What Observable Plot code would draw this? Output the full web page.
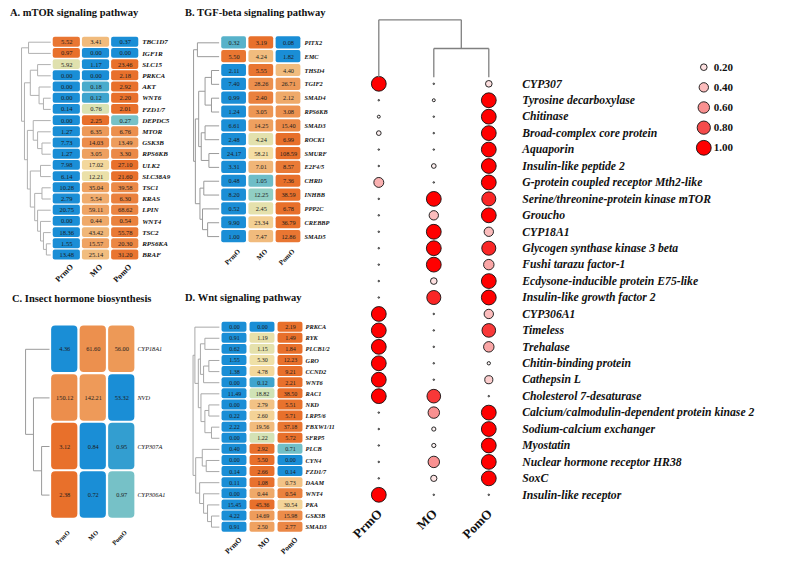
<!DOCTYPE html>
<html><head><meta charset="utf-8">
<script src="https://cdn.jsdelivr.net/npm/d3@7"></script>
<script src="https://cdn.jsdelivr.net/npm/@observablehq/plot@0.6"></script>
<style>
body{margin:0;background:#fff;}
#fig{position:relative;width:797px;height:562px;overflow:hidden;background:#fff;font-family:"Liberation Serif","Times New Roman",serif;}
.panel{position:absolute;}
.panel svg{max-width:none;display:block;}
.title{position:absolute;font-weight:bold;font-size:10.5px;line-height:12px;white-space:nowrap;color:#111;}
</style></head><body><div id="fig"></div>
<script>
const conditions = ["PrmO","MO","PomO"];

// A. mTOR signaling pathway
const mtorGenes = ["TBC1D7","IGF1R","SLC15","PRKCA","AKT","WNT6","FZD1/7","DEPDC5","MTOR","GSK3B","RPS6KB","ULK2","SLC38A9","TSC1","KRAS","LPIN","WNT4","TSC2","RPS6KA","BRAF"];
const mtorPrmO = [5.52,0.97,5.92,0.00,0.00,0.00,0.14,0.00,1.27,7.73,1.27,7.98,6.14,10.28,2.79,20.75,0.00,18.36,1.55,13.48];
const mtorMO   = [3.41,0.00,1.17,0.00,0.18,0.12,0.76,2.25,6.35,14.03,3.05,17.02,12.21,35.04,5.54,59.11,0.44,43.42,15.57,25.14];
const mtorPomO = [0.37,0.00,23.46,2.18,2.92,2.20,2.01,0.27,6.76,13.49,3.30,27.10,21.60,39.58,6.30,68.62,0.54,55.78,20.30,31.20];
const mtorTree = [1.0,[0.76,0,1],[0.9,[0.7,[0.45,2,3],[0.4,4,[0.25,5,6]]],[0.8,[0.6,7,[0.45,8,[0.3,9,10]]],[0.7,[0.35,11,12],[0.55,[0.3,13,14],[0.45,15,[0.35,16,[0.25,17,[0.15,18,19]]]]]]]]];

// B. TGF-beta signaling pathway
const tgfGenes = ["PITX2","EMC","THSD4","TGIF2","SMAD4","RPS6KB","SMAD3","ROCK1","SMURF","E2F4/5","CHRD","INHBB","PPP2C","CREBBP","SMAD5"];
const tgfPrmO = [0.32,5.50,2.11,7.40,0.99,1.24,6.61,2.48,24.17,3.31,0.48,8.20,0.52,9.90,1.00];
const tgfMO   = [3.19,4.24,5.55,28.26,2.40,3.05,14.25,4.24,58.21,7.01,1.05,12.25,2.45,23.34,7.47];
const tgfPomO = [0.08,1.82,4.40,26.71,2.12,3.08,15.40,6.99,108.59,8.57,7.36,38.59,6.78,36.79,12.86];
const tgfTree = [1.0,[0.85,0,1],[0.93,[0.8,[0.55,[0.3,2,3],[0.3,4,5]],[0.7,[0.55,6,7],[0.4,8,9]]],[0.75,[0.6,10,11],[0.65,12,[0.45,13,14]]]]];

// C. Insect hormone biosynthesis
const hormGenes = ["CYP18A1","NVD","CYP307A","CYP306A1"];
const hormPrmO = [4.36,150.12,3.12,2.38];
const hormMO   = [61.60,142.21,0.84,0.72];
const hormPomO = [56.00,53.32,0.95,0.97];
const hormTree = [1.0,0,[0.67,1,[0.33,2,3]]];

// D. Wnt signaling pathway
const wntGenes = ["PRKCA","RYK","PLCB1/2","GRO","CCND2","WNT6","RAC1","NKD","LRP5/6","FBXW1/11","SFRP5","PLCB","CYN4","FZD1/7","DAAM","WNT4","PKA","GSK3B","SMAD3"];
const wntPrmO = [0.00,0.91,0.62,1.55,1.38,0.00,11.49,0.00,0.22,2.22,0.00,0.40,0.00,0.14,0.11,0.00,15.45,4.22,0.91];
const wntMO   = [0.00,1.19,1.15,5.30,4.78,0.12,18.82,2.79,2.60,19.56,1.22,2.92,5.50,2.66,1.08,0.44,45.36,14.69,2.50];
const wntPomO = [2.19,1.49,1.84,12.23,9.21,2.21,38.50,5.51,5.71,37.18,5.72,0.71,0.00,0.14,0.73,0.54,30.54,15.98,2.77];
const wntTree = [1.0,[0.93,0,[0.8,[0.72,[0.55,1,2],[0.6,[0.4,3,4],5]],[0.7,6,[0.55,[0.4,7,8],[0.3,9,10]]]]],[0.9,[0.65,11,[0.5,12,13]],[0.75,14,[0.6,15,[0.45,16,[0.3,17,18]]]]]];

// Bubble chart
const bubbleGenes = ["CYP307","Tyrosine decarboxylase","Chitinase","Broad-complex core protein","Aquaporin","Insulin-like peptide 2","G-protein coupled receptor Mth2-like","Serine/threonine-protein kinase mTOR","Groucho","CYP18A1","Glycogen synthase kinase 3 beta","Fushi tarazu factor-1","Ecdysone-inducible protein E75-like","Insulin-like growth factor 2","CYP306A1","Timeless","Trehalase","Chitin-binding protein","Cathepsin L","Cholesterol 7-desaturase","Calcium/calmodulin-dependent protein kinase 2","Sodium-calcium exchanger","Myostatin","Nuclear hormone receptor HR38","SoxC","Insulin-like receptor"];
const bubblePrmO = [1.00,0.01,0.04,0.10,0.01,0.01,0.45,0.01,0.01,0.01,0.01,0.01,0.01,0.01,1.00,1.00,1.00,1.00,1.00,1.00,0.01,0.01,0.01,0.01,0.01,1.00];
const bubbleMO   = [0.01,0.04,0.01,0.01,0.01,0.10,0.01,1.00,0.40,1.00,1.00,1.00,0.20,0.90,0.01,0.01,0.01,0.01,0.01,0.85,0.60,0.08,0.08,0.60,0.18,0.01];
const bubblePomO = [0.20,1.00,1.00,1.00,1.00,1.00,1.00,0.90,1.00,0.40,0.90,0.50,1.00,1.00,0.40,0.85,0.50,0.05,0.30,0.01,1.00,1.00,1.00,1.00,1.00,0.01];
const bubbleTree = [1.0,0,[0.5,1,2]];
const legendValues = [0.20,0.40,0.60,0.80,1.00];

const serif = "'Liberation Serif','Times New Roman',serif";
const fmt = d3.format(".2f");
const heatColor = {type:"linear", domain:[-0.57,-0.47,-0.33,-0.15,0.1,0.45,0.85],
  range:["#1a8ed6","#45a9cc","#8ecdc4","#cde3b8","#f4dfa4","#efa565","#e8702b"], clamp:true};
const bubbleColor = {type:"linear", domain:[0,0.2,0.4,0.6,0.8,1], range:["#ffffff","#fde0e0","#fbbcbc","#f89090","#f54b4b","#ff0000"]};
const bubbleR = {type:"sqrt", domain:[0,1], range:[0,7.4]};

const fig = document.getElementById("fig");
function place(node, left, top){
  const d = document.createElement("div");
  d.className = "panel"; d.style.left = left+"px"; d.style.top = top+"px";
  d.appendChild(node); fig.appendChild(d);
}
function title(text, left, top){
  const d = document.createElement("div");
  d.className = "title"; d.style.left = left+"px"; d.style.top = top+"px";
  d.textContent = text; fig.appendChild(d);
}

function dendroSegments(tree, off){
  const segs = [];
  function walk(node){
    if (typeof node === "number") return {pos: node + off, h: 0};
    const [h, a, b] = node;
    const A = walk(a), B = walk(b);
    segs.push({h1:A.h, p1:A.pos, h2:h, p2:A.pos});
    segs.push({h1:B.h, p1:B.pos, h2:h, p2:B.pos});
    segs.push({h1:h, p1:A.pos, h2:h, p2:B.pos});
    return {pos:(A.pos+B.pos)/2, h};
  }
  walk(tree);
  return segs;
}

function heatmap(c){
  const n = c.genes.length;
  const cells = [];
  c.genes.forEach((g, r) => {
    const raw = c.series.map(s => s[r]);
    const lg = raw.map(v => Math.log1p(v));
    const m = d3.mean(lg), sd = d3.deviation(lg) || 1;
    raw.forEach((v, k) => cells.push({gene:g, r, c:k, v, z:(lg[k]-m)/sd}));
  });
  const segs = dendroSegments(c.tree, 0.5);
  const dx = hh => -c.gap - hh*c.span;
  return Plot.plot({
    width:c.w, height:c.h, margin:0,
    style:{background:"transparent", overflow:"visible", fontFamily:serif},
    x:{type:"linear", domain:[0,3], range:[c.x0, c.x0+3*c.px], axis:null},
    y:{type:"linear", domain:[0,n], range:[c.y0, c.y0+n*c.py], axis:null},
    color:heatColor,
    marks:[
      Plot.link(segs, {x1:d=>dx(d.h1), y1:"p1", x2:d=>dx(d.h2), y2:"p2", stroke:c.dstroke, strokeWidth:1}),
      Plot.rect(cells, {x1:d=>d.c+c.ix, x2:d=>d.c+1-c.ix, y1:d=>d.r+c.iy, y2:d=>d.r+1-c.iy, fill:"z", rx:c.rx}),
      Plot.text(cells, {x:d=>d.c+0.5, y:d=>d.r+0.5, text:d=>fmt(d.v), fontSize:c.vfs, fill:"#1c1c1c", fontFamily:serif}),
      Plot.text(c.genes, {x:()=>c.labX, y:(d,i)=>i+0.5, text:d=>d, textAnchor:"start", fontStyle:"italic", fontWeight:c.lfw, fontSize:c.lfs, fill:"#111", fontFamily:serif}),
      Plot.text(conditions, {x:(d,i)=>i+0.5, y:()=>n+c.colDy, text:d=>d, rotate:-45, textAnchor:"end", dx:c.colDx, fontSize:c.cfs, fontWeight:"bold", fill:"#111", fontFamily:serif})
    ]
  });
}

// Panel A
place(heatmap({genes:mtorGenes, series:[mtorPrmO,mtorMO,mtorPomO], tree:mtorTree, w:190, h:285,
  x0:51.7, px:29.2, y0:36.1, py:11.2, ix:0.035, iy:0.06, span:1.0, gap:0.05, rx:2,
  vfs:6.5, lfs:7, lfw:"bold", cfs:8, labX:3.08, colDy:0.45, colDx:5, dstroke:"#b0b0b0"}), 0, 0);
title("A. mTOR signaling pathway", 10, 7);

// Panel B
place(heatmap({genes:tgfGenes, series:[tgfPrmO,tgfMO,tgfPomO], tree:tgfTree, w:170, h:285,
  x0:30, px:27.2, y0:35.4, py:13.84, ix:0.045, iy:0.06, span:0.94, gap:0.05, rx:2,
  vfs:6.3, lfs:6.3, lfw:"bold", cfs:7, labX:3.09, colDy:0.5, colDx:5, dstroke:"#9a9a9a"}), 190, 0);
title("B. TGF-beta signaling pathway", 185, 7);

// Panel C
place(heatmap({genes:hormGenes, series:[hormPrmO,hormMO,hormPomO], tree:hormTree, w:190, h:277,
  x0:50, px:28.5, y0:39.5, py:48.6, ix:0.04, iy:0.022, span:0.84, gap:0.035, rx:4,
  vfs:6.3, lfs:6.3, lfw:"normal", cfs:6.5, labX:3.05, colDy:0.25, colDx:4, dstroke:"#9a9a9a"}), 0, 285);
title("C. Insect hormone biosynthesis", 12, 293);

// Panel D
place(heatmap({genes:wntGenes, series:[wntPrmO,wntMO,wntPomO], tree:wntTree, w:170, h:277,
  x0:30, px:28, y0:36.1, py:11.11, ix:0.055, iy:0.05, span:0.94, gap:0.04, rx:2,
  vfs:6, lfs:6.3, lfw:"bold", cfs:7.5, labX:3.04, colDy:0.52, colDx:6, dstroke:"#a8a8a8"}), 190, 285);
title("D. Wnt signaling pathway", 185, 292);

// Bubble chart (positions via linear index scales)
const series = [bubblePrmO, bubbleMO, bubblePomO];
const nb = bubbleGenes.length;
const bubbleData = [];
bubbleGenes.forEach((g, i) => conditions.forEach((c, j) => bubbleData.push({gene:g, gi:i, cond:c, ci:j, v:series[j][i]})));
place(Plot.plot({
  width:437, height:562, marginTop:0, marginLeft:0, marginRight:0, marginBottom:50,
  style:{background:"transparent", overflow:"visible", fontFamily:serif},
  x:{type:"linear", domain:[0,2], range:[18.3,128.3], axis:null},
  y:{type:"linear", domain:[0,nb-1], range:[83.3,494.3], axis:null},
  r:bubbleR, color:bubbleColor,
  marks:[
    Plot.dot(bubbleData, {x:"ci", y:"gi", r:"v", fill:"v", stroke:"#111", strokeWidth:0.9}),
    Plot.text(bubbleGenes, {x:()=>2, y:(d,i)=>i, text:d=>d, dx:33.4, textAnchor:"start", fontStyle:"italic", fontWeight:"bold", fontSize:11.7, fill:"#111", fontFamily:serif}),
    Plot.text(conditions, {x:(d,i)=>i, text:d=>d, frameAnchor:"bottom", rotate:-45, textAnchor:"end", dx:4, dy:2, fontSize:13, fontWeight:"bold", fill:"#111", fontFamily:serif})
  ]
}), 360, 0);

// Bubble dendrogram
const bsegs = dendroSegments(bubbleTree, 0);
place(Plot.plot({
  width:437, height:90, margin:0,
  style:{background:"transparent", overflow:"visible"},
  x:{type:"linear", domain:[0,2], range:[18.3,128.3], axis:null},
  y:{type:"linear", domain:[0,1], range:[76.7,19.3], axis:null},
  marks:[Plot.link(bsegs, {x1:"p1", y1:"h1", x2:"p2", y2:"h2", stroke:"#808080", strokeWidth:1.3})]
}), 360, 0);

// Legend
place(Plot.plot({
  width:117, height:110, margin:0,
  style:{background:"transparent", overflow:"visible", fontFamily:serif},
  x:{type:"linear", domain:[0,1], range:[23.3,100], axis:null},
  y:{type:"linear", domain:[0,legendValues.length-1], range:[16.7,97.3], axis:null},
  r:bubbleR, color:bubbleColor,
  marks:[
    Plot.dot(legendValues, {x:()=>0, y:(d,i)=>i, r:d=>d, fill:d=>d, stroke:"#111", strokeWidth:0.9}),
    Plot.text(legendValues, {x:()=>0, y:(d,i)=>i, text:d=>fmt(d), dx:10, textAnchor:"start", fontWeight:"bold", fontSize:11, fill:"#111", fontFamily:serif})
  ]
}), 680, 50);
</script></body></html>
